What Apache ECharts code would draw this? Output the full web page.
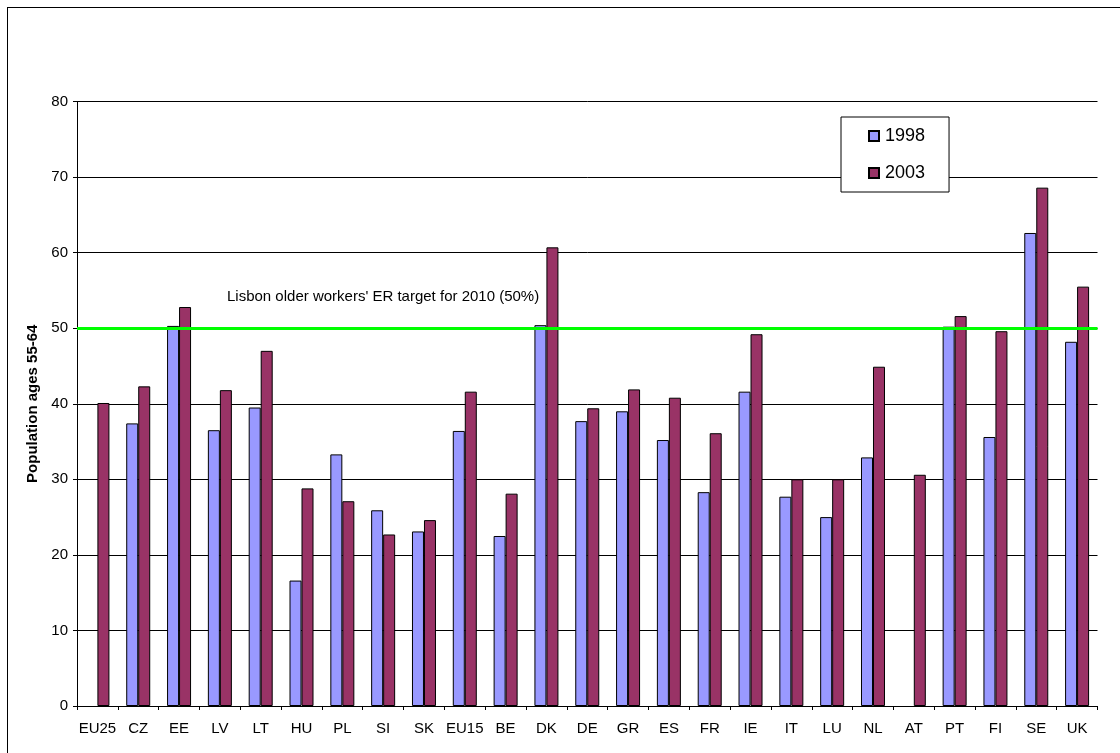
<!DOCTYPE html>
<html>
<head>
<meta charset="utf-8">
<script src="https://cdn.jsdelivr.net/npm/echarts@6/dist/echarts.min.js"></script>
<style>
  html, body { margin: 0; padding: 0; background: #fff; }
  #frame { position: absolute; left: 7px; top: 7px; width: 1200px; height: 800px; border-left: 1px solid #000; border-top: 1px solid #000; }
  #chart { position: absolute; left: 0; top: 0; width: 1120px; height: 753px; }
</style>
</head>
<body>
<div id="frame"></div>
<div id="chart"></div>
<script>
// country groups, in chart order
const countries = ["EU25", "CZ", "EE", "LV", "LT", "HU", "PL", "SI", "SK", "EU15", "BE", "DK", "DE",
  "GR", "ES", "FR", "IE", "IT", "LU", "NL", "AT", "PT", "FI", "SE", "UK"];

// employment rate of older workers (%)
const rate1998 = [null, 37.4, 50.3, 36.5, 39.5, 16.6, 33.3, 25.9, 23.1, 36.4, 22.5, 50.4, 37.7,
  39.0, 35.2, 28.3, 41.6, 27.7, 25.0, 32.9, null, 50.2, 35.6, 62.6, 48.2];
const rate2003 = [40.1, 42.3, 52.8, 41.8, 47.0, 28.8, 27.1, 22.7, 24.6, 41.6, 28.1, 60.7, 39.4,
  41.9, 40.8, 36.1, 49.2, 30.0, 30.0, 44.9, 30.6, 51.6, 49.6, 68.6, 55.5];

const lisbonTarget = 50;
const lisbonLabel = "Lisbon older workers' ER target for 2010 (50%)";

const font = "Arial, 'Liberation Sans', sans-serif";

const chart = echarts.init(document.getElementById("chart"));

chart.setOption({
  animation: false,
  backgroundColor: "transparent",
  textStyle: { fontFamily: font, color: "#000" },
  grid: { left: 77, right: 22.5, top: 101.5, bottom: 47 },
  legend: {
    orient: "vertical",
    left: 841,
    top: 117,
    padding: [9, 24, 9, 27],
    itemGap: 17,
    itemWidth: 10,
    itemHeight: 10,
    backgroundColor: "#fff",
    borderColor: "#000",
    borderWidth: 1,
    textStyle: { fontSize: 18, lineHeight: 20, fontFamily: font, color: "#000", padding: [0, 0, 0, 1] },
    data: [{ name: "1998", icon: "rect" }, { name: "2003", icon: "rect" }]
  },
  xAxis: {
    type: "category",
    data: countries,
    boundaryGap: true,
    axisLine: { lineStyle: { color: "#000", width: 1 } },
    axisTick: { show: true, length: 4, lineStyle: { color: "#000" } },
    axisLabel: { fontSize: 15, color: "#000", margin: 15, fontFamily: font, interval: 0 },
    splitLine: { show: false }
  },
  yAxis: {
    type: "value",
    min: 0,
    max: 80,
    interval: 10,
    name: "Population ages 55-64",
    nameLocation: "middle",
    nameGap: 36,
    nameTextStyle: { fontSize: 15, fontWeight: "bold", color: "#000", fontFamily: font },
    axisLine: { show: true, lineStyle: { color: "#000", width: 1 } },
    axisTick: { show: true, length: 4, lineStyle: { color: "#000" } },
    axisLabel: { fontSize: 15, color: "#000", margin: 9, fontFamily: font },
    splitLine: { show: true, lineStyle: { color: "#000", width: 1 } }
  },
  series: [
    {
      name: "1998",
      type: "bar",
      data: rate1998,
      barWidth: 12,
      barGap: "0%",
      itemStyle: { color: "#9999FF", borderColor: "#000", borderWidth: 1 }
    },
    {
      name: "2003",
      type: "bar",
      data: rate2003,
      barWidth: 12,
      barGap: "0%",
      itemStyle: { color: "#993366", borderColor: "#000", borderWidth: 1 },
      markLine: {
        silent: true,
        symbol: "none",
        z: 10,
        lineStyle: { color: "#00FF00", width: 3, type: "solid" },
        label: {
          show: true,
          position: "insideStartTop",
          formatter: lisbonLabel,
          fontSize: 15,
          color: "#000",
          fontFamily: font,
          distance: 0,
          offset: [150, -24]
        },
        data: [{ yAxis: lisbonTarget }]
      }
    }
  ]
});
</script>
</body>
</html>
